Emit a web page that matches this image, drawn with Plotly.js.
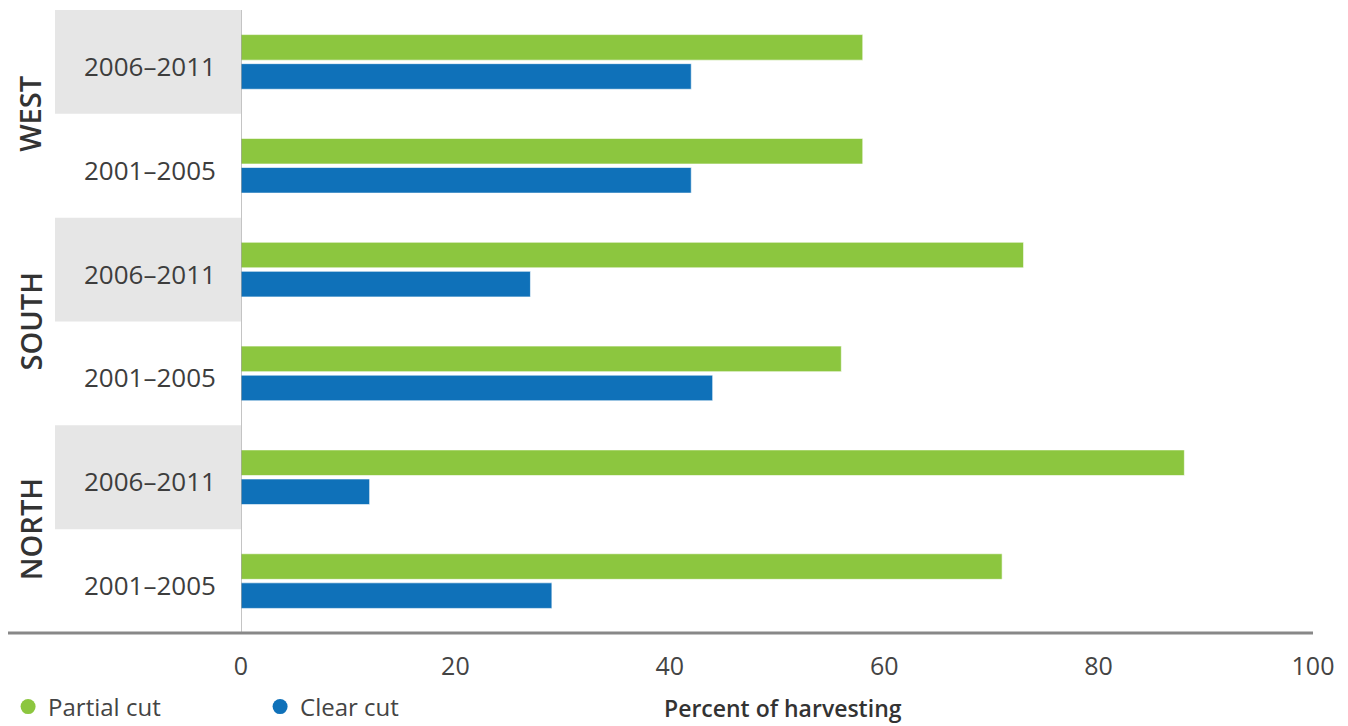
<!DOCTYPE html>
<html>
<head>
<meta charset="utf-8">
<script src="https://cdn.plot.ly/plotly-3.0.1.min.js"></script>
<style>
html,body{margin:0;padding:0;background:#fff;}
#chart{width:1348px;height:726px;}
</style>
</head>
<body>
<div id="chart"></div>
<script>
// ---- data ----
const regions = ['NORTH', 'SOUTH', 'WEST'];
const periods = ['2001–2005', '2006–2011'];
// values in order: NORTH 2001–2005, NORTH 2006–2011, SOUTH 2001–2005, SOUTH 2006–2011, WEST 2001–2005, WEST 2006–2011
const partialCut = [71, 88, 56, 73, 58, 58];
const clearCut   = [29, 12, 44, 27, 42, 42];
const xTickValues = [0, 20, 40, 60, 80, 100];
const seriesNames = ['Partial cut', 'Clear cut'];
const xTitle = 'Percent of harvesting';

// ---- build categories ----
const catIds = [], catRegion = [], catPeriod = [];
regions.forEach(r => periods.forEach(p => {
  catIds.push(r + ' ' + p); catRegion.push(r); catPeriod.push(p);
}));

const GREEN = '#8cc63f', BLUE = '#0f71b9';
const fontFam = '"Open Sans", "Liberation Sans", Arial, sans-serif';

const traces = [
  { type: 'bar', orientation: 'h', name: seriesNames[1], x: clearCut, y: catIds,
    marker: { color: BLUE, line: { color: 'rgba(255,255,255,0.6)', width: 1 } },
    showlegend: false, hoverinfo: 'x' },
  { type: 'bar', orientation: 'h', name: seriesNames[0], x: partialCut, y: catIds,
    marker: { color: GREEN, line: { color: 'rgba(255,255,255,0.6)', width: 1 } },
    showlegend: false, hoverinfo: 'x' },
  { type: 'scatter', mode: 'markers', name: seriesNames[0], x: [null], y: [null],
    marker: { color: GREEN, size: 15, symbol: 'circle' }, legendrank: 1, hoverinfo: 'skip' },
  { type: 'scatter', mode: 'markers', name: seriesNames[1], x: [null], y: [null],
    marker: { color: BLUE, size: 15, symbol: 'circle' }, legendrank: 2, hoverinfo: 'skip' }
];

const plotL = 241, plotR = 1313, plotW = plotR - plotL;
const plotT = 10, plotB = 633, plotH = plotB - plotT;
const px2paper = px => (px - plotL) / plotW;

const shapes = [];
const annotations = [];
catIds.forEach((id, i) => {
  if (catPeriod[i] === periods[1]) {
    shapes.push({ type: 'rect', xref: 'paper', yref: 'y', layer: 'below',
      x0: px2paper(55), x1: 0, y0: i - 0.5, y1: i + 0.5,
      fillcolor: '#e6e6e6', line: { width: 0 } });
  }
  annotations.push({ xref: 'paper', yref: 'y', x: px2paper(82), y: id, yshift: -4,
    xanchor: 'left', yanchor: 'middle', showarrow: false, text: catPeriod[i],
    font: { family: fontFam, size: 26, color: '#3d3d3d' } });
});
regions.forEach((r, k) => {
  annotations.push({ xref: 'paper', yref: 'y', x: px2paper(30), y: k * 2 + 0.5,
    xanchor: 'center', yanchor: 'middle', showarrow: false, textangle: -90,
    text: r, font: { family: fontFam, size: 29, color: '#333333', weight: 600 } });
});
// x-axis title
annotations.push({ xref: 'paper', yref: 'paper', x: px2paper(783), y: -(708 - plotB) / plotH,
  xanchor: 'center', yanchor: 'middle', showarrow: false, text: xTitle,
  font: { family: fontFam, size: 23, color: '#333333', weight: 600 } });
// bottom axis line extending under labels
shapes.push({ type: 'line', xref: 'paper', yref: 'paper', x0: px2paper(8), x1: 1, y0: 0, y1: 0,
  line: { color: '#888888', width: 3 } });
// vertical zero line
shapes.push({ type: 'line', xref: 'x', yref: 'paper', x0: 0, x1: 0, y0: 0, y1: 1,
  line: { color: '#8a8a8a', width: 1 } });

const layout = {
  width: 1348, height: 726,
  margin: { l: plotL, r: 1348 - plotR, t: plotT, b: 726 - plotB, pad: 0 },
  paper_bgcolor: '#ffffff', plot_bgcolor: '#ffffff',
  barmode: 'group', bargap: 0.44, bargroupgap: 0.12,
  font: { family: fontFam, color: '#3d3d3d' },
  xaxis: {
    range: [0, 100], tickvals: xTickValues, showgrid: false, zeroline: false,
    showline: false, ticks: '', ticklabelstandoff: 16,
    tickfont: { family: fontFam, size: 25, color: '#444444' },
    fixedrange: true
  },
  yaxis: {
    type: 'category', categoryorder: 'array', categoryarray: catIds,
    range: [-0.5, catIds.length - 0.5], showticklabels: false, showgrid: false,
    zeroline: false, showline: false, ticks: '', fixedrange: true
  },
  legend: {
    orientation: 'h', xref: 'container', yref: 'container',
    x: 0.006, y: 1 - 707 / 726, xanchor: 'left', yanchor: 'middle',
    font: { family: fontFam, size: 24, color: '#444444' },
    entrywidth: 207, itemwidth: 30, bgcolor: 'rgba(0,0,0,0)'
  },
  shapes: shapes,
  annotations: annotations,
  showlegend: true
};

Plotly.newPlot('chart', traces, layout, { displayModeBar: false, staticPlot: true });
</script>
</body>
</html>
